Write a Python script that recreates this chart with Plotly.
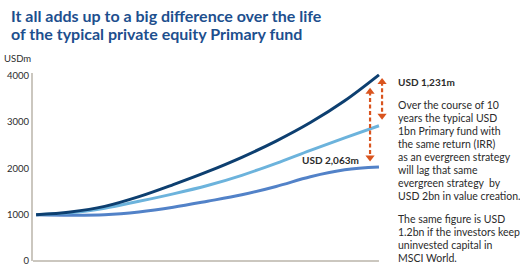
import plotly.graph_objects as go

# ---- data (USDm, by year) ----
years = [0, 1, 2, 3, 4, 5, 6, 7, 8, 9, 10]
evergreen = [1000, 1060, 1180, 1390, 1650, 1930, 2240, 2590, 2990, 3460, 4020]
primary_msci = [1000, 1040, 1140, 1290, 1450, 1630, 1850, 2110, 2390, 2660, 2920]
primary_cash = [1000, 990, 1000, 1060, 1160, 1290, 1430, 1610, 1820, 1970, 2030]
y_ticks = [0, 1000, 2000, 3000, 4000]
y_tick_labels = ["0", "1000", "2000", "3000", "4000"]

title_lines = ["It all adds up to a big difference over the life",
               "of the typical private equity Primary fund"]
para1 = ["Over the course of 10", "years the typical USD", "1bn Primary fund with",
         "the same return (IRR)", "as an evergreen strategy", "will lag that same",
         "evergreen strategy  by", "USD 2bn in value creation."]
para2 = ["The same figure is USD", "1.2bn if the investors keep",
         "uninvested capital in", "MSCI World."]

FONT = "Lato"
W, H = 520, 272
ML, MR, MT, MB = 33, 128, 73, 6
XR = [-0.09, 10.38]
YR = [0, 4060]
PW = W - ML - MR
PH = H - MT - MB

def px_x(px):
    return (px - ML) / PW

def px_y(py):
    return (H - MB - py) / PH

fig = go.Figure()
series = [
    (evergreen, "#0d3f70", "Evergreen strategy"),
    (primary_msci, "#6cb3dc", "Primary fund (MSCI World)"),
    (primary_cash, "#5282c8", "Primary fund (uninvested)"),
]
for vals, col, name in series[::-1]:
    fig.add_trace(go.Scatter(
        x=years, y=vals, mode="lines", name=name,
        line=dict(color=col, width=3, shape="spline", smoothing=1.0),
        hoverinfo="skip",
    ))

# dashed double-headed arrows
ARROW = "#d9541e"
arrows = [
    (9.74, evergreen[-1] - 290, primary_cash[-1] + 130),
    (10.09, evergreen[-1] - 80, primary_msci[-1] + 140),
]
head = 70
for ax, ytop, ybot in arrows:
    fig.add_trace(go.Scatter(
        x=[ax, ax], y=[ytop - head, ybot + head], mode="lines",
        line=dict(color=ARROW, width=2.2, dash="4px,2.5px"),
        hoverinfo="skip", showlegend=False,
    ))
    fig.add_trace(go.Scatter(
        x=[ax, ax], y=[ytop - 75, ybot + 75], mode="markers",
        marker=dict(symbol=["triangle-up", "triangle-down"], size=8, color=ARROW,
                    line=dict(width=0)),
        hoverinfo="skip", showlegend=False, cliponaxis=False,
    ))

AXC = "#cbc7bf"
fig.add_shape(type="line", xref="x", yref="paper", x0=XR[0], x1=10.0, y0=0, y1=0,
              line=dict(color=AXC, width=2))

TXT = "#2b2b2b"
for i, line in enumerate(title_lines):
    fig.add_annotation(text=line, xref="paper", yref="paper", x=px_x(9), y=px_y(14 + 18 * i),
                       xanchor="left", yanchor="middle", align="left", showarrow=False,
                       font=dict(family=FONT, size=16, color="#1d4f8e", weight=700))
fig.add_annotation(text="USDm", xref="paper", yref="paper", x=px_x(2), y=px_y(58),
                   xanchor="left", yanchor="middle", showarrow=False,
                   font=dict(family=FONT, size=9.5, color=TXT))
fig.add_annotation(text="USD 2,063m", xref="x", yref="y", x=9.47, y=2180,
                   xanchor="right", yanchor="middle", showarrow=False,
                   font=dict(family=FONT, size=10, color=TXT, weight=700))
fig.add_annotation(text="USD 1,231m", xref="paper", yref="paper", x=px_x(396), y=px_y(82),
                   xanchor="left", yanchor="middle", showarrow=False,
                   font=dict(family=FONT, size=10, color=TXT, weight=700))
for start, lines in ((105.7, para1), (223.3, para2)):
    for i, line in enumerate(lines):
        fig.add_annotation(text=line, xref="paper", yref="paper", x=px_x(396),
                           y=px_y(start + 13.35 * i), xanchor="left", yanchor="middle",
                           align="left", showarrow=False,
                           font=dict(family=FONT, size=10.5, color=TXT))

fig.update_layout(
    width=W, height=H, margin=dict(l=ML, r=MR, t=MT, b=MB),
    paper_bgcolor="white", plot_bgcolor="white", showlegend=False,
    xaxis=dict(range=XR, showline=False, showgrid=False, zeroline=False,
               showticklabels=False, ticks=""),
    yaxis=dict(range=YR, showline=True, linecolor=AXC, linewidth=2,
               showgrid=False, zeroline=False, tickvals=y_ticks, ticktext=y_tick_labels,
               ticks="", tickfont=dict(family=FONT, size=9.5, color=TXT)),
)

fig.write_html("out.html")
